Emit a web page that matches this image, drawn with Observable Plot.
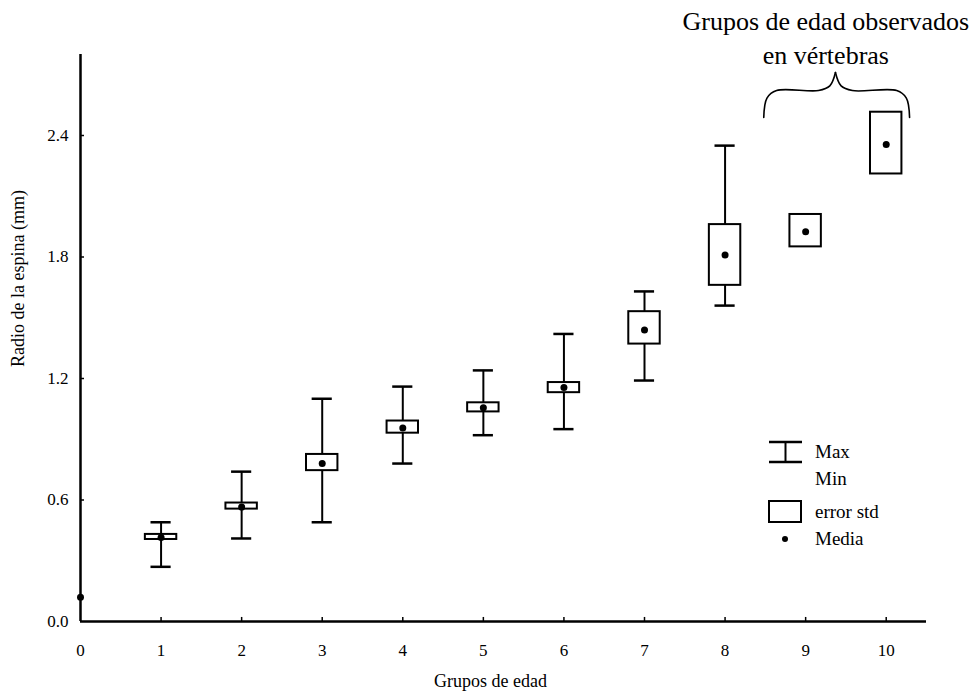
<!DOCTYPE html>
<html><head><meta charset="utf-8">
<script src="https://cdn.jsdelivr.net/npm/d3@7"></script>
<script src="https://cdn.jsdelivr.net/npm/@observablehq/plot@0.6"></script>
<style>
body{margin:0;background:#fff;}
#wrap{position:relative;width:975px;height:696px;}
#wrap svg{font-family:'Liberation Serif','Times New Roman',serif;}
#wrap svg text{font-family:'Liberation Serif','Times New Roman',serif;}
#wrap svg.overlay{position:absolute;left:0;top:0;pointer-events:none;}
</style></head><body><div id="wrap"></div>
<script>
// Age groups and spine-radius statistics (mm)
const groups  = [0, 1, 2, 3, 4, 5, 6, 7, 8, 9, 10];
const maxVals = [null, 0.49, 0.74, 1.10, 1.16, 1.24, 1.42, 1.63, 2.35, null, null];
const minVals = [null, 0.27, 0.41, 0.49, 0.78, 0.92, 0.95, 1.19, 1.56, null, null];
const seHigh  = [null, 0.43, 0.585, 0.825, 0.99, 1.08, 1.18, 1.53, 1.96, 2.01, 2.515];
const seLow   = [null, 0.405, 0.555, 0.745, 0.93, 1.035, 1.13, 1.37, 1.66, 1.85, 2.21];
const means   = [0.12, 0.415, 0.565, 0.78, 0.955, 1.055, 1.155, 1.44, 1.81, 1.925, 2.355];
const xTicks  = [0, 1, 2, 3, 4, 5, 6, 7, 8, 9, 10];
const yTicks  = [0, 0.6, 1.2, 1.8, 2.4];
const xTitle = "Grupos de edad";
const yTitle = "Radio de la espina (mm)";
const noteLines = ["Grupos de edad observados", "en vértebras"];
const legendLabels = ["Max", "Min", "error std", "Media"];

const rows = groups.map((g, i) => ({g, max: maxVals[i], min: minVals[i], hi: seHigh[i], lo: seLow[i], mean: means[i]}));
const whisk = rows.filter(d => d.max != null);
const boxes = rows.filter(d => d.hi != null);
const serif = "'Liberation Serif','Times New Roman',serif";
const capHalf = 0.125, boxHalf = 0.195;

// brace over groups 9 and 10 (annotation, in data units)
const braceL = [[8.48,2.489],[8.52,2.585],[8.64,2.622],[9.16,2.622],[9.30,2.645],[9.37,2.711]];
const braceR = [[9.37,2.711],[9.44,2.645],[9.58,2.622],[10.13,2.622],[10.25,2.585],[10.29,2.489]];
const brace = [...braceL.map(p => ({x:p[0], y:p[1], s:"L"})), ...braceR.map(p => ({x:p[0], y:p[1], s:"R"}))];

const chart = Plot.plot({
  width: 975, height: 696,
  marginLeft: 80, marginRight: 49, marginTop: 54, marginBottom: 75,
  style: {fontFamily: serif, fontSize: "17px", color: "#000", background: "#fff", overflow: "visible"},
  x: {domain: [0, 10.5]},
  y: {domain: [0, 2.8]},
  marks: [
    Plot.axisX({ticks: xTicks, tickSize: 0, tickPadding: 22, tickFormat: d => String(d), label: null, fontSize: 17, fontFamily: serif}),
    Plot.axisY({ticks: yTicks, tickSize: 0, tickPadding: 12, tickFormat: d3.format(".1f"), label: null, fontSize: 17, fontFamily: serif}),
    Plot.ruleX(xTicks.slice(1), {x: d => d, y1: 0, y2: 0.02, strokeWidth: 1.5}),
    Plot.ruleY(yTicks.slice(1), {y: d => d, x1: 0, x2: 0.05, strokeWidth: 1.5}),
    Plot.ruleX(whisk, {x: "g", y1: "min", y2: "max", strokeWidth: 2}),
    Plot.ruleY(whisk, {y: "max", x1: d => d.g - capHalf, x2: d => d.g + capHalf, strokeWidth: 2.5}),
    Plot.ruleY(whisk, {y: "min", x1: d => d.g - capHalf, x2: d => d.g + capHalf, strokeWidth: 2.5}),
    Plot.rect(boxes, {x1: d => d.g - boxHalf, x2: d => d.g + boxHalf, y1: "lo", y2: "hi", fill: "white", stroke: "black", strokeWidth: 2}),
    Plot.dot(rows, {x: "g", y: "mean", r: 3.5, fill: "black", stroke: "none"}),
    Plot.ruleY([0], {strokeWidth: 2.5}),
    Plot.ruleX([0], {y1: 0, y2: 2.8, strokeWidth: 2.5}),
    Plot.text([xTitle], {frameAnchor: "bottom", dx: -13, dy: 65, fontSize: 18, fontFamily: serif}),
    Plot.text([yTitle], {frameAnchor: "left", rotate: -90, dx: -62, dy: 29, fontSize: 18, fontFamily: serif}),
    Plot.line(brace, {x: "x", y: "y", z: "s", curve: "catmull-rom", strokeWidth: 1.6}),
    Plot.text([noteLines[0]], {x: 9.25, y: 2.92, lineAnchor: "bottom", fontSize: 26, fontFamily: serif}),
    Plot.text([noteLines[1]], {x: 9.25, y: 2.752, lineAnchor: "bottom", fontSize: 26, fontFamily: serif})
  ]
});
const wrap = document.getElementById("wrap");
wrap.appendChild(chart);

// legend overlay
const svg = d3.select(wrap).append("svg").attr("class", "overlay").attr("width", 975).attr("height", 696)
  .style("font-family", serif).style("font-size", "19px");
const lg = svg.append("g").attr("stroke", "black").attr("fill", "none");
lg.append("line").attr("x1", 769).attr("x2", 802).attr("y1", 442).attr("y2", 442).attr("stroke-width", 2.5);
lg.append("line").attr("x1", 769).attr("x2", 802).attr("y1", 462).attr("y2", 462).attr("stroke-width", 2.5);
lg.append("line").attr("x1", 785.5).attr("x2", 785.5).attr("y1", 442).attr("y2", 462).attr("stroke-width", 2);
lg.append("rect").attr("x", 769).attr("y", 501).attr("width", 32).attr("height", 21).attr("fill", "white").attr("stroke-width", 2);
svg.append("circle").attr("cx", 785).attr("cy", 539).attr("r", 3).attr("fill", "black");
const lt = [[legendLabels[0], 458], [legendLabels[1], 485], [legendLabels[2], 518], [legendLabels[3], 545]];
svg.selectAll("text.lg").data(lt).join("text").attr("class", "lg").attr("x", 815).attr("y", d => d[1]).attr("fill", "black").text(d => d[0]);
</script></body></html>
